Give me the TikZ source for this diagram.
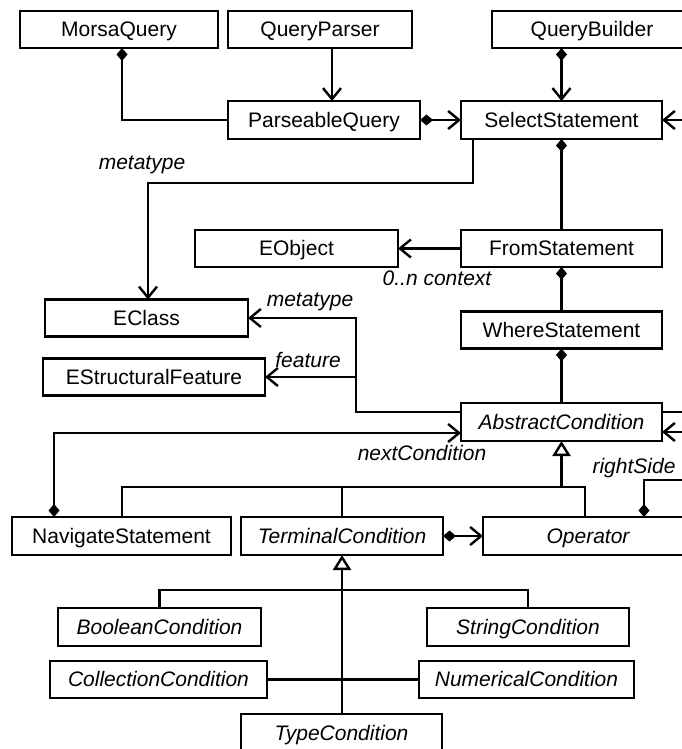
\documentclass[tikz,border=0pt]{standalone}
\usepackage{fontspec}
\setmainfont{Liberation Sans}
\usetikzlibrary{arrows.meta}
\begin{document}
\begin{tikzpicture}[x=1pt,y=-1pt,
  font=\fontsize{21}{24}\selectfont,
  cls/.style={draw,line width=2.6pt,inner sep=0pt,outer sep=0pt,fill=white,text height=14.5pt,text depth=0pt},
  abs/.style={cls,font=\fontsize{21}{24}\selectfont\itshape},
  conn/.style={line width=2.4pt},
  aend/.style={conn,-{Straight Barb[length=11pt,width=18pt,line width=2.4pt]}},
  dstart/.style={conn,{Diamond[length=13pt,width=11pt]}-},
  dboth/.style={conn,{Diamond[length=13pt,width=11pt]}-{Straight Barb[length=11pt,width=18pt,line width=2.4pt]}},
  gen/.style={conn,-{Triangle[open,length=15pt,width=18pt,fill=white,line width=2.4pt]}},
  lbl/.style={font=\fontsize{21}{24}\selectfont\itshape,inner sep=0pt}
]
\useasboundingbox (0,0) rectangle (682,749);
\clip (0,0) rectangle (682,749);
% boxes
\node[cls,minimum width=198pt,minimum height=37pt] (MQ) at (119,29.5) {MorsaQuery};
\node[cls,minimum width=184pt,minimum height=37pt] (QP) at (320,29.5) {QueryParser};
\node[cls,minimum width=200pt,minimum height=37pt] (QB) at (592,29.5) {QueryBuilder};
\node[cls,minimum width=192pt,minimum height=38pt] (PQ) at (324,120) {ParseableQuery};
\node[cls,minimum width=201pt,minimum height=38pt] (SS) at (561.5,120) {SelectStatement};
\node[cls,minimum width=203pt,minimum height=37pt] (EO) at (296.5,248.5) {EObject};
\node[cls,minimum width=201pt,minimum height=37pt] (FS) at (561.5,248.5) {FromStatement};
\node[cls,minimum width=203pt,minimum height=37pt] (EC) at (146.5,318) {EClass};
\node[cls,minimum width=201pt,minimum height=37pt] (WS) at (561.5,330) {WhereStatement};
\node[cls,minimum width=222pt,minimum height=37pt] (ESF) at (154,377) {EStructuralFeature};
\node[abs,minimum width=201pt,minimum height=38pt] (AC) at (561.5,422) {AbstractCondition};
\node[cls,minimum width=219pt,minimum height=38pt] (NS) at (121.5,536) {NavigateStatement};
\node[abs,minimum width=202pt,minimum height=38pt] (TC) at (342,536) {TerminalCondition};
\node[abs,minimum width=210pt,minimum height=38pt] (OP) at (588,536) {Operator};
\node[abs,minimum width=203pt,minimum height=38pt] (BC) at (159.5,627) {BooleanCondition};
\node[abs,minimum width=202pt,minimum height=38pt] (SC) at (528,627) {StringCondition};
\node[abs,minimum width=217pt,minimum height=37pt] (CC) at (158.5,679.5) {CollectionCondition};
\node[abs,minimum width=215pt,minimum height=37pt] (NC) at (526.5,679.5) {NumericalCondition};
\node[abs,minimum width=201pt,minimum height=38pt] (TY) at (341.5,733) {TypeCondition};
% free ends
\coordinate (mt1) at (148,183);
\coordinate (ml) at (356,318);
\coordinate (ssR) at (700,120);
\coordinate (acR1) at (700,412);
\coordinate (acR2) at (700,432);
\coordinate (rsR) at (700,480);
\coordinate (gj) at (585,487);
% connectors
\draw[dstart] (MQ.south -| 122,0) |- (PQ.west);
\draw[aend] (QP.south -| 332,0) -- (PQ.north -| 332,0);
\draw[dboth] (PQ.east) -- (SS.west);
\draw[dboth] (QB.south -| SS.north) -- (SS.north);
\draw[aend] (ssR) -- (SS.east);
\draw[aend] (SS.south -| 473,0) |- (mt1) -- (mt1 |- EC.north);
\draw[dstart] (SS.south) -- (FS.north);
\draw[aend] (FS.west) -- (EO.east);
\draw[dstart] (FS.south) -- (WS.north);
\draw[dstart] (WS.south) -- (AC.north);
\draw[aend] (AC.west |- 0,412) -| (ml) -- (EC.east);
\draw[aend] (ml |- ESF.east) -- (ESF.east);
\draw[conn] (AC.east |- acR1) -- (acR1);
\draw[aend] (acR2) -- (AC.east |- acR2);
\draw[dboth] (NS.north -| 54,0) |- (AC.west |- 0,433);
\draw[gen] (AC.south |- gj) -- (AC.south);
\draw[conn] (NS.north -| 122,0) |- (gj) -- (OP.north -| gj);
\draw[conn] (TC.north) -- (TC.north |- gj);
\draw[dstart] (OP.north -| 644,0) |- (rsR);
\draw[dboth] (TC.east) -- (OP.west);
\draw[gen] (TC.south |- TY.north) -- (TC.south);
\draw[conn] (BC.north) |- (SC.north |- 0,590) -- (SC.north);
\draw[conn] (CC.east) -- (NC.west);
% labels
\node[lbl] (l1) at (142,165) {metatype};
\node[lbl] (l2) at (437,278) {0..n context};
\node[lbl] (l3) at (310,302) {metatype};
\node[lbl] (l4) at (308,360) {feature};
\node[lbl] (l5) at (422,453) {nextCondition};
\node[lbl] (l6) at (634,468) {rightSide};
\end{tikzpicture}
\end{document}
